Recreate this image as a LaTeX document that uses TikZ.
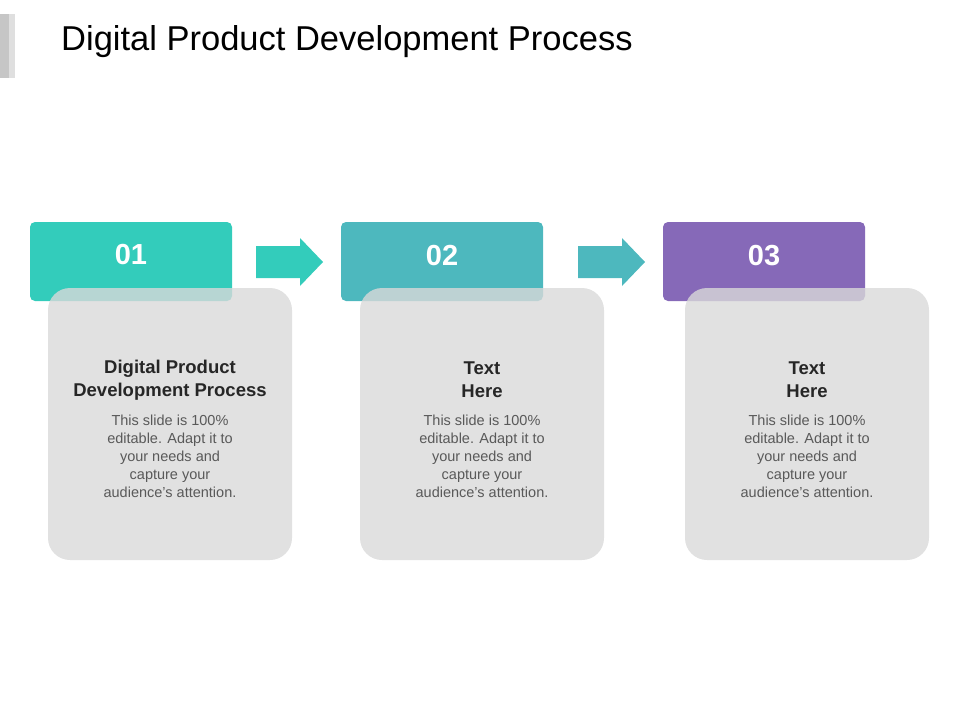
\documentclass[tikz,border=0pt]{standalone}
\usepackage{fontspec}
\setmainfont{Liberation Sans}
\definecolor{tA}{HTML}{33CCBB}
\definecolor{tB}{HTML}{4DB8BE}
\definecolor{pC}{HTML}{8669B8}
\definecolor{gb}{HTML}{D9D9D9}
\definecolor{bt}{HTML}{595959}
\begin{document}
\begin{tikzpicture}[x=1pt,y=-1pt,
 hdr/.style={rounded corners=5pt},
 card/.style={fill=gb,fill opacity=0.8,rounded corners=22pt},
 num/.style={text=white,font=\bfseries\fontsize{29}{34}\selectfont},
 ttl/.style={font=\bfseries\fontsize{18.5}{23}\selectfont,align=center,text=black!85},
 body/.style={font=\fontsize{14.5}{18}\selectfont,align=center,text=bt}]
\useasboundingbox (0,0) rectangle (960,720);
\fill[gray!45] (0,14) rectangle (9,78);
\fill[gray!25] (9,14) rectangle (15,78);
\node[anchor=west,inner sep=0pt,font=\fontsize{34.5}{40}\selectfont] (title) at (61,42) {Digital\ Product\ Development\ Process};
% headers
\fill[tA,hdr] (30,222) rectangle (232,301);
\fill[tB,hdr] (341,222) rectangle (543,301);
\fill[pC,hdr] (663,222) rectangle (865,301);
\node[num] (n1) at (131,255) {01};
\node[num] (n2) at (442,256) {02};
\node[num] (n3) at (764,256) {03};
% arrows
\fill[tA] (256,246) -- (300,246) -- (300,238) -- (323,262) -- (300,286) -- (300,278) -- (256,278) -- cycle;
\fill[tB] (578,246) -- (622,246) -- (622,238) -- (645,262) -- (622,286) -- (622,278) -- (578,278) -- cycle;
% cards
\fill[card] (48,288) rectangle (292,560);
\fill[card] (360,288) rectangle (604,560);
\fill[card] (685,288) rectangle (929,560);
\node[ttl] (h1) at (170,380) {Digital Product\\Development Process};
\node[ttl] (h2) at (482,380) {Text\\Here};
\node[ttl] (h3) at (807,380) {Text\\Here};
\node[body] (b1) at (170,456) {This slide is 100\%\\editable. Adapt it to\\your needs and\\capture your\\audience's attention.};
\node[body] (b2) at (482,456) {This slide is 100\%\\editable. Adapt it to\\your needs and\\capture your\\audience's attention.};
\node[body] (b3) at (807,456) {This slide is 100\%\\editable. Adapt it to\\your needs and\\capture your\\audience's attention.};
\end{tikzpicture}
\end{document}
